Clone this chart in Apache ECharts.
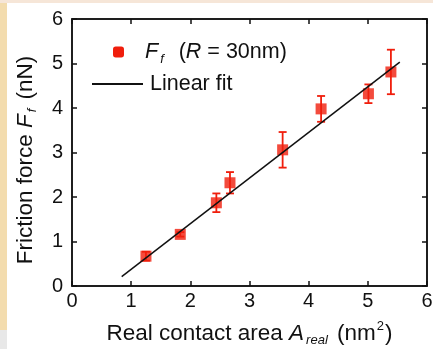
<!DOCTYPE html>
<html>
<head>
<meta charset="utf-8">
<script src="https://cdn.jsdelivr.net/npm/echarts@6/dist/echarts.min.js"></script>
<style>
  html, body { margin: 0; padding: 0; background: #fff; }
  #chart { width: 433px; height: 349px; }
</style>
</head>
<body>
<div id="chart"></div>
<script>
// measured points (area in nm^2, friction in nN)
const areaX = [1.25, 1.83, 2.44, 2.67, 3.56, 4.21, 5.01, 5.39]
const forceY = [0.67, 1.16, 1.87, 2.32, 3.06, 3.98, 4.32, 4.81]
const forceErr = [0.10, 0.05, 0.21, 0.24, 0.40, 0.29, 0.21, 0.50]
// linear fit endpoints
const fitX = [0.84, 5.54]
const fitY = [0.21, 5.03]
const ticks = [0, 1, 2, 3, 4, 5, 6]

const red = '#f01e0c'
const font = 'Liberation Sans, Arial, sans-serif'

const chart = echarts.init(document.getElementById('chart'))

const pts = areaX.map((x, i) => [x, forceY[i]])
const errs = areaX.map((x, i) => [x, forceY[i] - forceErr[i], forceY[i] + forceErr[i]])
const fit = fitX.map((x, i) => [x, fitY[i]])

const makeRich = size => ({
  n: { fontSize: size, fontFamily: font, color: '#111' },
  i: { fontSize: size, fontFamily: font, color: '#111', fontStyle: 'italic' },
  s: { fontSize: 13, fontFamily: font, color: '#111', fontStyle: 'italic', verticalAlign: 'bottom', padding: [14, 3, 0, 2] },
  sup: { fontSize: 13, fontFamily: font, color: '#111', verticalAlign: 'top', padding: [0, 1, 12, 1] },
})
const legendRich = makeRich(21.5)
const titleRich = makeRich(22.5)

const axisCommon = {
  min: 0,
  max: 6,
  interval: 1,
  axisLine: { show: true, onZero: false, lineStyle: { color: '#111', width: 1.5 } },
  axisTick: { show: true, inside: true, length: 5, lineStyle: { color: '#111', width: 1.5 } },
  splitLine: { show: false },
}

const option = {
  backgroundColor: '#fff',
  animation: false,
  grid: {
    left: 72, right: 6, top: 19, bottom: 63,
    containLabel: false, outerBoundsMode: 'none',
    show: true, borderColor: '#111', borderWidth: 1.5,
  },
  graphic: [
    { type: 'rect', left: 0, top: 0, shape: { width: 7, height: 330 }, style: { fill: '#f3dcae' }, z: -1 },
    { type: 'rect', left: 0, top: 0, shape: { width: 433, height: 3 }, style: { fill: '#f6e6d8' }, z: -1 },
    { type: 'rect', left: 0, top: 330, shape: { width: 7, height: 19 }, style: { fill: '#e8e8e8' }, z: -1 },
  ],
  legend: [
    {
      data: ['Ff'],
      left: 108, top: 36,
      itemWidth: 11, itemHeight: 11,
      formatter: () => '{i|F}{s|f}{n|  (}{i|R}{n| = 30nm)}',
      textStyle: { rich: legendRich, padding: [0, 0, 0, 16] },
    },
    {
      data: [{ name: 'Linear fit', icon: 'rect' }],
      left: 87, top: 68,
      itemWidth: 51, itemHeight: 2,
      textStyle: { fontSize: 21.5, fontFamily: font, color: '#111', padding: [0, 0, 0, 2] },
    },
  ],
  xAxis: [
    Object.assign({}, axisCommon, {
      type: 'value',
      gridIndex: 0,
      name: '{n|Real contact area }{i|A}{s|real}{n| (nm}{sup|2}{n|)}',
      nameLocation: 'middle',
      nameGap: 34,
      nameTextStyle: { rich: titleRich },
      axisLabel: { fontSize: 20, fontFamily: font, color: '#111', margin: 5,
        formatter: v => ticks.includes(v) ? String(v) : '' },
    }),
    Object.assign({}, axisCommon, { type: 'value', gridIndex: 0, position: 'top', axisLabel: { show: false } }),
  ],
  yAxis: [
    Object.assign({}, axisCommon, {
      type: 'value',
      gridIndex: 0,
      name: '{n|Friction force }{i|F}{s|f}{n| (nN)}',
      nameLocation: 'middle',
      nameGap: 33,
      nameRotate: 90,
      nameTextStyle: { rich: titleRich, padding: [0, 15, 0, 0] },
      axisLabel: { fontSize: 20, fontFamily: font, color: '#111', margin: 9 },
    }),
    Object.assign({}, axisCommon, { type: 'value', gridIndex: 0, position: 'right', axisLabel: { show: false } }),
  ],
  series: [
    {
      // put the fit on the top/right axes (same scale) so those get drawn too
      name: 'Linear fit',
      type: 'line',
      xAxisIndex: 1,
      yAxisIndex: 1,
      data: fit,
      symbol: 'none',
      lineStyle: { color: '#111', width: 1.5 },
      itemStyle: { color: '#111' },
      z: 3,
    },
    {
      name: 'Ff',
      type: 'custom',
      data: errs,
      renderItem: (params, api) => {
        const x = api.value(0)
        const lo = api.coord([x, api.value(1)])
        const hi = api.coord([x, api.value(2)])
        const cap = 4
        const style = { stroke: red, lineWidth: 1.8 }
        return {
          type: 'group',
          children: [
            { type: 'line', shape: { x1: lo[0], y1: lo[1], x2: hi[0], y2: hi[1] }, style },
            { type: 'line', shape: { x1: lo[0] - cap, y1: lo[1], x2: lo[0] + cap, y2: lo[1] }, style },
            { type: 'line', shape: { x1: hi[0] - cap, y1: hi[1], x2: hi[0] + cap, y2: hi[1] }, style },
          ],
        }
      },
      itemStyle: { color: red },
      z: 2,
    },
    {
      name: 'Ff',
      type: 'scatter',
      data: pts,
      symbol: 'rect',
      symbolSize: 11,
      itemStyle: { color: red },
      z: 2,
    },
  ],
}

chart.setOption(option)
</script>
</body>
</html>
